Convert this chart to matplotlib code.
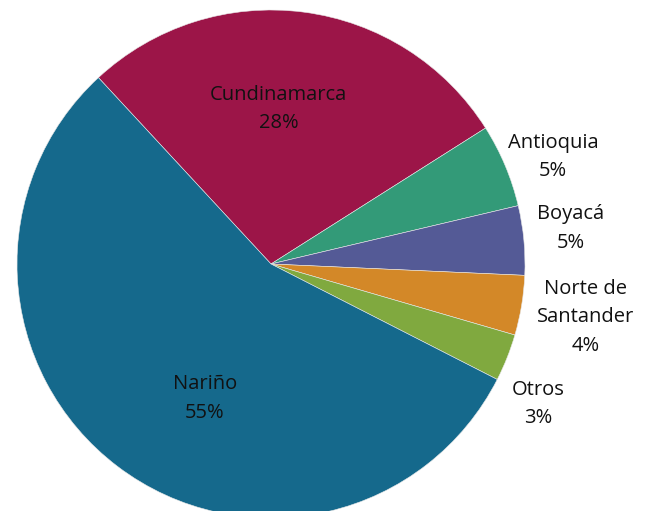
import matplotlib
matplotlib.use("Agg")
import matplotlib.pyplot as plt

# Departments and their share (%)
departments = ["Cundinamarca", "Antioquia", "Boyacá", "Norte de\nSantander", "Otros", "Nariño"]
shares = [27.9, 5.3, 4.4, 3.8, 3.0, 55.6]
labels = ["28%", "5%", "5%", "4%", "3%", "55%"]
colors = ["#9c1548", "#339a78", "#545a96", "#d38828", "#80a93f", "#15698c"]

# Label positions (data units, pie radius = 1)
label_pos = [(0.03, 0.61), (1.11, 0.42), (1.18, 0.14), (1.24, -0.21), (1.05, -0.55), (-0.26, -0.53)]

fig = plt.figure(figsize=(6.54, 5.11), dpi=100)
r = 254
ax = fig.add_axes([(271 - r) / 654, (511 - 264 - r) / 511, 2 * r / 654, 2 * r / 511])

ax.pie(shares, colors=colors, startangle=132.8, counterclock=False,
       wedgeprops=dict(edgecolor="#e8e8e8", linewidth=0.4))
ax.set_xlim(-1, 1)
ax.set_ylim(-1, 1)
ax.set_aspect("equal")
ax.axis("off")

for name, pct, (x, y) in zip(departments, labels, label_pos):
    ax.text(x, y, name + "\n" + pct, ha="center", va="center",
            fontsize=14.5, family="Open Sans", color="#111111", linespacing=1.55,
            clip_on=False)

fig.savefig("out.png", dpi=100)
